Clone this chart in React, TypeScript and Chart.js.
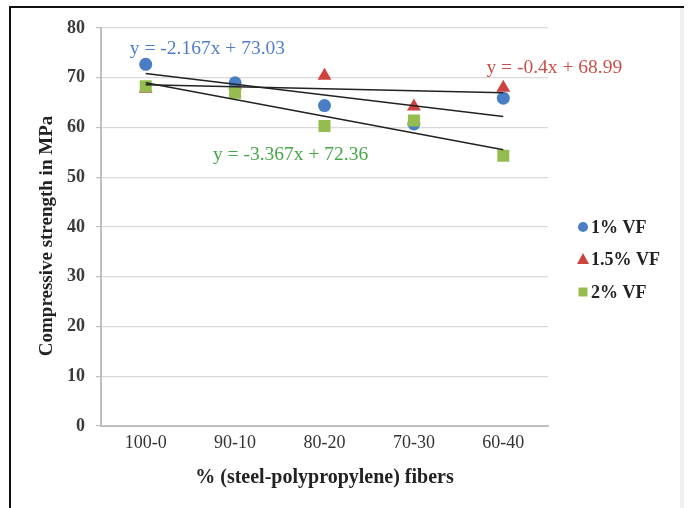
import React, { useEffect, useRef } from 'react';
import { Chart, registerables } from 'chart.js';

Chart.register(...registerables);

const categories = ['100-0', '90-10', '80-20', '70-30', '60-40'];
const seriesNames = ['1% VF', '1.5% VF', '2% VF'];
const vf1 = [72.7, 69.0, 64.4, 60.7, 65.9];
const vf15 = [67.8, 68.5, 70.4, 64.2, 68.0];
const vf2 = [68.3, 67.0, 60.3, 61.4, 54.3];
const trendSlopes = [-2.167, -0.4, -3.367];
const trendIntercepts = [73.03, 68.99, 72.36];
const equationLabels = ['y = -2.167x + 73.03', 'y = -0.4x + 68.99', 'y = -3.367x + 72.36'];
// anchor of each equation label: [category position, value]
const equationAnchors = [[0.69, 75.8], [4.57, 72.0], [1.62, 54.5]];
const xTitle = '% (steel-polypropylene) fibers';
const yTitle = 'Compressive strength in MPa';
const yMin = 0;
const yMax = 80;
const yStep = 10;

const colors = ['#4A7EC4', '#CC4340', '#94BC4E'];
const textColors = ['#4F7FC9', '#C9504A', '#45A845'];
const pointStyles = ['circle', 'triangle', 'rect'];
const serif = "'Liberation Serif', 'Times New Roman', serif";

const overlayPlugin = {
  id: 'overlay',
  afterDatasetsDraw(chart: any) {
    const ctx = chart.ctx;
    const xs = chart.scales.x;
    const ys = chart.scales.y;
    const p0 = xs.getPixelForValue(0);
    const p1 = xs.getPixelForValue(1);
    const step = p1 - p0;
    ctx.save();
    ctx.font = `19.5px ${serif}`;
    ctx.textAlign = 'center';
    ctx.textBaseline = 'middle';
    equationLabels.forEach((t, i) => {
      const [cx, v] = equationAnchors[i];
      ctx.fillStyle = textColors[i];
      ctx.fillText(t, p0 + cx * step, ys.getPixelForValue(v));
    });
    // y axis title
    ctx.save();
    ctx.translate(47, (chart.chartArea.top + chart.chartArea.bottom) / 2 + 9);
    ctx.rotate(-Math.PI / 2);
    ctx.font = `bold 19px ${serif}`;
    ctx.fillStyle = '#222';
    ctx.fillText(yTitle, 0, 0);
    ctx.restore();
    // legend
    const lx = 583;
    const rows = [227, 259, 292];
    ctx.font = `bold 18px ${serif}`;
    ctx.textAlign = 'left';
    seriesNames.forEach((n, i) => {
      const y = rows[i];
      ctx.fillStyle = colors[i];
      ctx.beginPath();
      if (i === 0) {
        ctx.arc(lx, y, 5, 0, Math.PI * 2);
      } else if (i === 1) {
        ctx.moveTo(lx, y - 6);
        ctx.lineTo(lx + 6, y + 5);
        ctx.lineTo(lx - 6, y + 5);
        ctx.closePath();
      } else {
        ctx.rect(lx - 4.5, y - 4.5, 9, 9);
      }
      ctx.fill();
      ctx.fillStyle = '#222';
      ctx.fillText(n, lx + 8, y + 1);
    });
    ctx.restore();
  },
};

export default function App() {
  const ref = useRef<HTMLCanvasElement | null>(null);
  useEffect(() => {
    if (!ref.current) return;
    const seriesData = [vf1, vf15, vf2];
    const trendSets = trendSlopes.map((m, k) => ({
      type: 'line' as const,
      label: 'trend' + k,
      data: categories.map((_, i) => m * (i + 1) + trendIntercepts[k]),
      borderColor: '#222',
      borderWidth: 1.6,
      pointRadius: 0,
      fill: false,
      order: 0,
    }));
    const radii = [6.5, 8, 8.5];
    const drawOrder = [2, 3, 1];
    const pointSets = seriesData.map((d, k) => ({
      type: 'line' as const,
      label: seriesNames[k],
      data: d,
      showLine: false,
      pointStyle: pointStyles[k],
      pointRadius: radii[k],
      pointBackgroundColor: colors[k],
      pointBorderColor: colors[k],
      pointBorderWidth: 0,
      order: drawOrder[k],
    }));
    const chart = new Chart(ref.current, {
      type: 'line',
      data: { labels: categories, datasets: [...trendSets, ...pointSets] as any },
      options: {
        responsive: false,
        animation: false,
        layout: { padding: { top: 28, right: 140, left: 0, bottom: 0 } },
        plugins: { legend: { display: false }, tooltip: { enabled: false } },
        scales: {
          x: {
            type: 'category',
            offset: true,
            grid: { display: false, drawTicks: false },
            border: { color: '#bfbfbf', width: 2 },
            ticks: { font: { family: serif, size: 18 }, color: '#333', padding: 6 },
            title: {
              display: true,
              text: xTitle,
              font: { family: serif, size: 20, weight: 'bold' },
              color: '#222',
              padding: { top: 0, bottom: 18 },
            },
            afterFit: (s: any) => { s.height = 82; },
          },
          y: {
            min: yMin,
            max: yMax,
            ticks: { stepSize: yStep, font: { family: serif, size: 18, weight: 'bold' }, color: '#3a3a3a', padding: 11 },
            grid: { color: '#d9d9d9', tickLength: 5, tickColor: '#bfbfbf', lineWidth: 1.2 },
            border: { color: '#bfbfbf', width: 2 },
            title: { display: false },
            afterFit: (s: any) => { s.width = 101; },
          },
        },
      } as any,
      plugins: [overlayPlugin],
    });
    return () => chart.destroy();
  }, []);

  return (
    <div style={{ position: 'fixed', left: 0, top: 0, width: 688, height: 508, background: '#fff', overflow: 'hidden' }}>
      <canvas ref={ref} width={688} height={508} style={{ position: 'absolute', left: 0, top: 0 }} />
      <div style={{ position: 'absolute', left: 9, top: 6, width: 675, height: 2, background: '#111' }} />
      <div style={{ position: 'absolute', left: 9, top: 6, width: 2, height: 502, background: '#111' }} />
      <div style={{ position: 'absolute', left: 680, top: 8, width: 4, height: 500, background: '#f0f0f0' }} />
    </div>
  );
}
